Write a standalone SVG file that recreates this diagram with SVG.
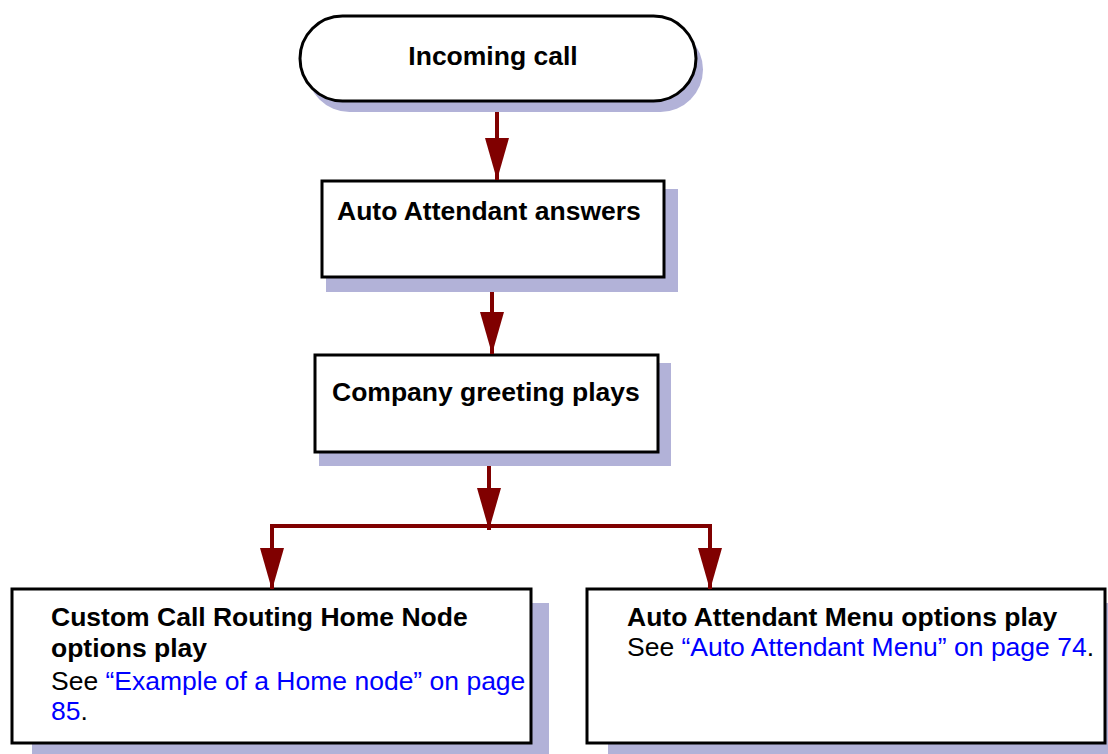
<svg xmlns="http://www.w3.org/2000/svg" width="1108" height="754" viewBox="0 0 1108 754">
<style>
.shadow{fill:#B2B2D8;stroke:none}
.box{fill:#FFFFFF;stroke:#000000;stroke-width:3}
.b{font-family:"Liberation Sans",Arial,Helvetica,sans-serif;font-size:26.5px;font-weight:bold;fill:#000000}
.r{font-family:"Liberation Sans",Arial,Helvetica,sans-serif;font-size:26.5px;fill:#000000}
.link{fill:#0000FF}
.conn{fill:none;stroke:#800000;stroke-width:4}
</style>
<defs>
<marker id="ah" markerWidth="42" markerHeight="24" refX="42" refY="12" orient="auto" markerUnits="userSpaceOnUse" viewBox="0 0 42 24">
<path d="M0,0 L42,12 L0,24 Z" fill="#800000"/>
</marker>
</defs>
<rect width="1108" height="754" fill="#FFFFFF"/>
<g id="node-incoming">
<rect class="shadow" x="307" y="27" width="396" height="85" rx="42.5"/>
<rect class="box" x="300" y="16" width="396" height="85" rx="42.5"/>
<text class="b" x="493" y="65" text-anchor="middle">Incoming call</text>
</g>
<g id="node-answers">
<rect class="shadow" x="326" y="189" width="352" height="103"/>
<rect class="box" x="322" y="181" width="342" height="96"/>
<text class="b" x="337" y="220">Auto Attendant answers</text>
</g>
<g id="node-greeting">
<rect class="shadow" x="319" y="363" width="352" height="103"/>
<rect class="box" x="315" y="355" width="343" height="97"/>
<text class="b" x="332" y="401">Company greeting plays</text>
</g>
<g id="node-home">
<rect class="shadow" x="32" y="603" width="517" height="160"/>
<rect class="box" x="12" y="589" width="519" height="154"/>
<text class="b" x="51" y="626">Custom Call Routing Home Node</text>
<text class="b" x="51" y="657">options play</text>
<text class="r" x="51" y="690">See <tspan class="link">“Example of a Home node” on page</tspan></text>
<text class="r" x="51" y="720"><tspan class="link">85</tspan>.</text>
</g>
<g id="node-menu">
<rect class="shadow" x="608" y="603" width="520" height="160"/>
<rect class="box" x="587" y="589" width="518" height="154"/>
<text class="b" x="627" y="626">Auto Attendant Menu options play</text>
<text class="r" x="627" y="656">See <tspan class="link">“Auto Attendant Menu” on page 74</tspan>.</text>
</g>
<g id="connectors">
<line class="conn" x1="497" y1="112" x2="497" y2="180" marker-end="url(#ah)"/>
<line class="conn" x1="492" y1="292" x2="492" y2="354" marker-end="url(#ah)"/>
<line class="conn" x1="489" y1="466" x2="489" y2="530" marker-end="url(#ah)"/>
<polyline class="conn" points="272,589 272,526 710,526 710,589" fill="none"/>
<path d="M260,548 L284,548 L272,590 Z" fill="#800000"/>
<path d="M698,548 L722,548 L710,590 Z" fill="#800000"/>
</g>
</svg>
